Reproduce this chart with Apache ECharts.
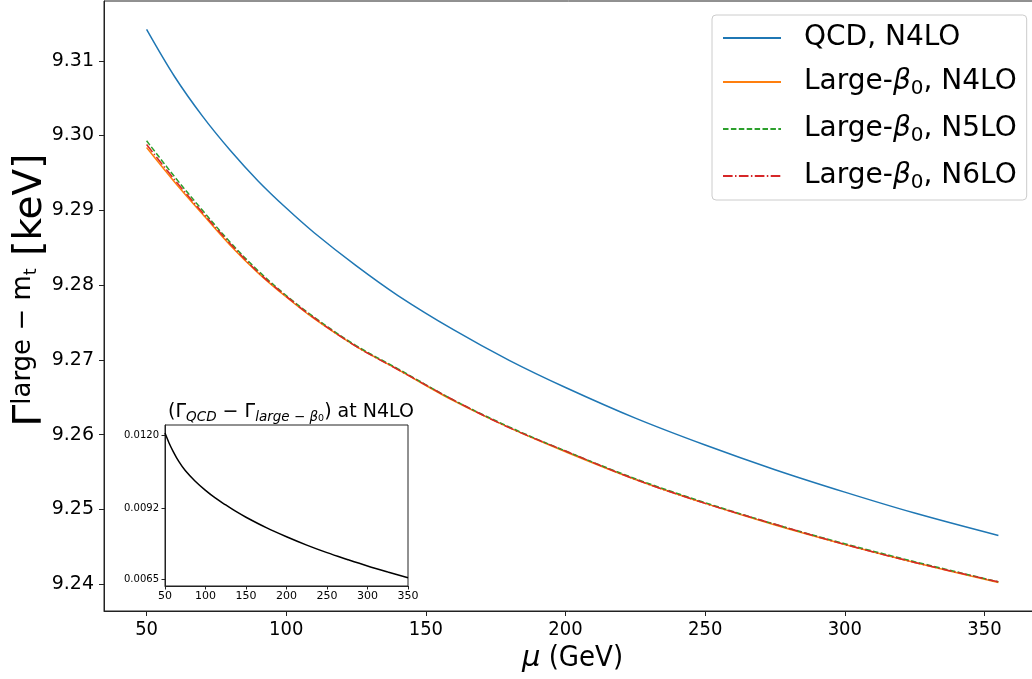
<!DOCTYPE html>
<html>
<head>
<meta charset="utf-8">
<script src="https://cdn.jsdelivr.net/npm/echarts@6/dist/echarts.min.js"></script>
<style>
  html, body { margin: 0; padding: 0; background: #fff; }
  #chart { width: 1032px; height: 679px; }
</style>
</head>
<body>
<div id="chart"></div>
<script>
// Renormalisation scale mu (GeV)
const mu = [50, 60, 70, 80, 90, 100, 110, 125, 140, 160, 180, 200, 225, 250, 275, 300, 325, 355];

// Width in keV for each approximation
const qcdN4LO   = [9.3142, 9.3079, 9.3026, 9.2980, 9.2939, 9.2903, 9.2870, 9.2826, 9.2786, 9.2740, 9.2699, 9.2663, 9.2622, 9.2586, 9.2553, 9.2523, 9.2495, 9.2465];
const largeN4LO = [9.2984, 9.2938, 9.2895, 9.2853, 9.2816, 9.2784, 9.2755, 9.2718, 9.2687, 9.2645, 9.2609, 9.2577, 9.2540, 9.2508, 9.2479, 9.2453, 9.2429, 9.2402];
const largeN5LO = [9.2993, 9.2945, 9.2900, 9.2857, 9.2819, 9.2786, 9.2757, 9.2719, 9.2688, 9.2646, 9.2610, 9.2578, 9.2541, 9.2509, 9.2480, 9.2454, 9.2430, 9.2403];
const largeN6LO = [9.2988, 9.2941, 9.2897, 9.2855, 9.2817, 9.2785, 9.2756, 9.2718, 9.2687, 9.2646, 9.2609, 9.2578, 9.2540, 9.2508, 9.2480, 9.2453, 9.2429, 9.2403];

// Inset: QCD minus large-beta0 at N4LO
const insetMu   = [50, 55, 60, 67, 75, 87, 100, 112, 125, 137, 150, 175, 200, 225, 250, 275, 300, 325, 350];
const insetDiff = [0.01210, 0.01172, 0.01140, 0.01101, 0.01066, 0.01026, 0.00990, 0.00961, 0.00934, 0.00910, 0.00887, 0.00847, 0.00812, 0.00780, 0.00751, 0.00725, 0.00700, 0.00677, 0.00655];

// Tick labels
const mainXTicks  = [50, 100, 150, 200, 250, 300, 350];
const mainYTicks  = [9.24, 9.25, 9.26, 9.27, 9.28, 9.29, 9.30, 9.31];
const insetXTicks = [50, 100, 150, 200, 250, 300, 350];
const insetYTicks = [0.0065, 0.0092, 0.0120];

const seriesNames = ['QCD, N4LO', 'Large-β0, N4LO', 'Large-β0, N5LO', 'Large-β0, N6LO'];

const FONT = "'DejaVu Sans', sans-serif";
const FONT_C = "'DejaVu Sans Condensed', 'DejaVu Sans', sans-serif";

function pairs(xs, ys) { return xs.map((x, i) => [x, ys[i]]); }

const chart = echarts.init(document.getElementById('chart'), null, { renderer: 'canvas' });

const lineSeries = (name, data, color, type, z) => ({
  name, type: 'line', xAxisIndex: 0, yAxisIndex: 0,
  data: pairs(mu, data), smooth: 0.35,
  symbol: 'none', showSymbol: false, z,
  lineStyle: { color, width: 1.5, type },
  itemStyle: { color },
  emphasis: { disabled: true }, animation: false
});

chart.setOption({
  animation: false,
  backgroundColor: '#fff',
  textStyle: { fontFamily: FONT },
  title: {
    text: '{a|(Γ}{s|QCD}{a| − Γ}{s|large − β}{t|0}{a|) at N4LO}',
    left: 286, top: 396, textAlign: 'center',
    textStyle: {
      fontWeight: 'normal',
      rich: {
        a: { fontSize: 19, fontFamily: FONT, fontWeight: 'normal', color: '#000', lineHeight: 23, verticalAlign: 'middle' },
        s: { fontSize: 13.5, fontFamily: FONT, fontWeight: 'normal', fontStyle: 'italic', color: '#000', lineHeight: 12, verticalAlign: 'bottom' },
        t: { fontSize: 9.5, fontFamily: FONT, fontWeight: 'normal', color: '#000', lineHeight: 9, verticalAlign: 'bottom' }
      }
    }
  },
  legend: {
    orient: 'vertical', left: 712, top: 15,
    padding: [9, 10, 7, 10], itemGap: 16,
    itemWidth: 58, itemHeight: 14,
    backgroundColor: 'rgba(255,255,255,0.8)', borderColor: '#cccccc', borderWidth: 1, borderRadius: 4,
    itemStyle: { opacity: 0 },
    data: seriesNames,
    formatter: function (n) {
      if (n.indexOf('Large-β0') === 0) {
        return '{a|Large-}{b|β}{s|0}{a|' + n.slice(8) + '}';
      }
      return '{a|' + n + '}';
    },
    textStyle: {
      padding: [0, 0, 0, 18],
      rich: {
        a: { fontSize: 28, fontFamily: FONT, color: '#000', lineHeight: 34 },
        b: { fontSize: 28, fontFamily: FONT, fontStyle: 'italic', color: '#000', lineHeight: 34 },
        s: { fontSize: 20, fontFamily: FONT, color: '#000', lineHeight: 20, verticalAlign: 'bottom' }
      }
    }
  },
  grid: [
    { left: 104, top: 1, right: -9, bottom: 68, show: true, borderColor: '#222', borderWidth: 1, backgroundColor: 'transparent', containLabel: false, outerBoundsMode: 'none' },
    { left: 165, top: 425, width: 243, height: 161, show: true, borderColor: '#222', borderWidth: 1, backgroundColor: '#fff', z: 10, containLabel: false, outerBoundsMode: 'none' }
  ],
  xAxis: [
    {
      type: 'value', gridIndex: 0, min: 34.75, max: 370.25,
      name: '{i|μ}{a| (GeV)}', nameLocation: 'middle', nameGap: 33, nameMoveOverlap: false,
      nameTextStyle: { rich: {
        i: { fontSize: 29, fontFamily: FONT, fontStyle: 'italic', color: '#000' },
        a: { fontSize: 29, fontFamily: FONT_C, color: '#000' }
      } },
      axisLine: { show: true, lineStyle: { color: '#222', width: 1 } },
      axisTick: { show: true, inside: false, length: 5, lineStyle: { color: '#222' }, customValues: mainXTicks },
      axisLabel: { show: true, margin: 9, fontSize: 20, fontFamily: FONT_C, color: '#000', customValues: mainXTicks, formatter: v => String(v) },
      splitLine: { show: false }
    },
    {
      type: 'value', gridIndex: 1, min: 50, max: 350,
      axisLine: { show: true, lineStyle: { color: '#222', width: 1 } },
      axisTick: { show: true, inside: false, length: 3.5, lineStyle: { color: '#222' }, customValues: insetXTicks },
      axisLabel: { show: true, margin: 5, fontSize: 11, fontFamily: FONT, color: '#000', customValues: insetXTicks, formatter: v => String(v) },
      splitLine: { show: false }, z: 10
    }
  ],
  yAxis: [
    {
      type: 'value', gridIndex: 0, min: 9.2364, max: 9.3180,
      name: '{g|Γ}{p|large − m}{q|t}{g| [keV]}', nameLocation: 'middle', nameRotate: 90, nameGap: 52, nameMoveOverlap: false,
      nameTextStyle: {
        padding: [0, 0, 0, 32],
        rich: {
          g: { fontSize: 39, fontFamily: FONT, color: '#000', lineHeight: 42, verticalAlign: 'middle' },
          p: { fontSize: 26, fontFamily: FONT, color: '#000', lineHeight: 26, verticalAlign: 'top' },
          q: { fontSize: 18, fontFamily: FONT, color: '#000', lineHeight: 18, verticalAlign: 'middle' }
        }
      },
      axisLine: { show: true, lineStyle: { color: '#222', width: 1 } },
      axisTick: { show: true, inside: false, length: 5, lineStyle: { color: '#222' }, customValues: mainYTicks },
      axisLabel: { show: true, margin: 10, fontSize: 19, fontFamily: FONT, color: '#000', customValues: mainYTicks, formatter: v => v.toFixed(2) },
      splitLine: { show: false }
    },
    {
      type: 'value', gridIndex: 1, min: 0.00623, max: 0.01241,
      axisLine: { show: true, lineStyle: { color: '#222', width: 1 } },
      axisTick: { show: true, inside: false, length: 3.5, lineStyle: { color: '#222' }, customValues: insetYTicks },
      axisLabel: { show: true, margin: 6, fontSize: 10, fontFamily: FONT, color: '#000', customValues: insetYTicks, formatter: v => v.toFixed(4) },
      splitLine: { show: false }, z: 10
    }
  ],
  series: [
    lineSeries(seriesNames[0], qcdN4LO, '#1f77b4', 'solid', 2),
    lineSeries(seriesNames[1], largeN4LO, '#ff7f0e', 'solid', 3),
    lineSeries(seriesNames[2], largeN5LO, '#2ca02c', [5.5, 2.4], 4),
    lineSeries(seriesNames[3], largeN6LO, '#d62728', [9.6, 2.4, 1.5, 2.4], 5),
    {
      name: 'inset', type: 'line', xAxisIndex: 1, yAxisIndex: 1,
      data: pairs(insetMu, insetDiff), smooth: 0.35,
      symbol: 'none', showSymbol: false, z: 12,
      lineStyle: { color: '#000', width: 1.5 }, emphasis: { disabled: true }
    }
  ]
});
</script>
</body>
</html>
